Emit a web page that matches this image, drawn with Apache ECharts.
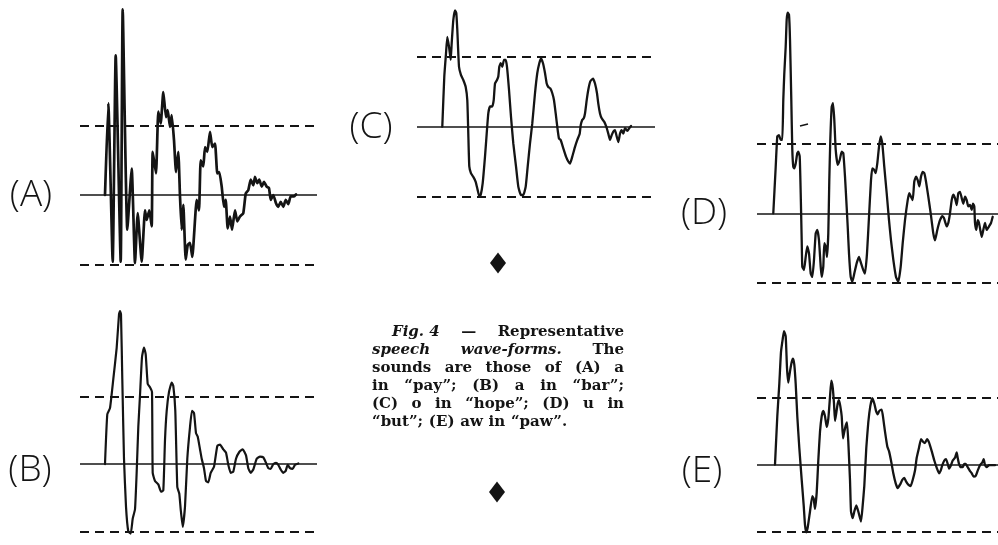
<!DOCTYPE html>
<html>
<head>
<meta charset="utf-8">
<script src="https://cdn.jsdelivr.net/npm/echarts@6/dist/echarts.min.js"></script>
<style>html,body{margin:0;padding:0;background:#fff;}#c{width:998px;height:545px;}</style>
</head>
<body>
<div id="c"></div>
<script>
// Panel labels
const panelLabels = ['(A)', '(B)', '(C)', '(D)', '(E)'];
// Waveforms: [time, amplitude] with the dashed reference lines at +1 / -1
const waveA = [[25,0],[28.3,1.32],[32.7,-0.96],[35.7,2.01],[40.7,-0.96],[42.7,2.67],[47.3,-0.5],[51.7,0.38],[55,-0.98],[57.7,-0.26],[61.7,-0.96],[65,-0.22],[66.7,-0.36],[69.3,-0.22],[71.7,-0.45],[72.7,0.62],[76,0.31],[78.3,1.2],[80.7,1.03],[83.3,1.48],[86,1.12],[87.7,1.22],[90,0.98],[91.7,1.15],[94,0.79],[96,0.33],[98.3,0.62],[100,-0.02],[101.7,-0.5],[103.3,-0.14],[105.7,-0.93],[107.7,-0.72],[110,-0.69],[112.3,-0.89],[116.7,-0.07],[119,-0.22],[120.7,0.5],[123.3,0.41],[125,0.69],[127.3,0.62],[130,0.91],[132.3,0.69],[135,0.74],[137.3,0.31],[139.3,0.33],[141.7,0.12],[144,-0.17],[145.7,-0.07],[147.7,-0.48],[150,-0.31],[152,-0.5],[155,-0.22],[157.3,-0.38],[160,-0.31],[163.3,-0.26],[165.7,0.02],[168.3,0.07],[170.7,0.22],[173.3,0.14],[175,0.26],[177.3,0.17],[179.3,0.22],[181.7,0.12],[184,0.19],[186.7,0.12],[189,0.1],[190.7,-0.07],[193.3,0],[196,-0.12],[198.3,-0.17],[200.7,-0.1],[203.3,-0.17],[205.7,-0.07],[208.3,-0.13],[210.7,-0.02],[214,-0.02],[216,0.01]];
const waveB = [[25,0],[27.3,0.74],[30,0.83],[33.3,1.26],[36.7,1.73],[39,2.22],[40,2.27],[41,2.22],[42.3,1.26],[44,0.08],[46,-0.63],[48.3,-1],[50.7,-1.03],[52.7,-0.81],[55,-0.67],[56.7,-0.11],[58.3,0.55],[60,1.02],[62,1.59],[64,1.73],[65.7,1.63],[67.7,1.19],[70,1.14],[72,1.07],[72.7,-0.13],[75,-0.25],[78.3,-0.3],[81,-0.41],[83.3,-0.39],[85,0.36],[86.7,0.79],[89,1.07],[91.7,1.21],[93.3,1.16],[95.3,0.79],[97.3,-0.34],[99.3,-0.44],[100.7,-0.67],[102.7,-0.93],[105,-0.63],[107.3,0.08],[110,0.55],[112,0.79],[114,0.76],[116,0.46],[117.7,0.41],[120,0.22],[121.7,0.08],[124,-0.06],[126,-0.25],[128.3,-0.27],[130.7,-0.13],[134,-0.04],[137.3,0.27],[140,0.29],[143.3,0.22],[146,0.17],[148.3,-0.01],[150.7,-0.13],[153.3,-0.11],[156,0.08],[159.3,0.18],[162.7,0.22],[166,0.13],[168.3,-0.06],[170.7,-0.13],[173.3,-0.08],[176.7,0.08],[180,0.11],[183.3,0.1],[185.7,0.03],[188.3,-0.06],[190.7,-0.07],[193.3,0],[196,0.02],[198.3,-0.01],[200.7,-0.08],[203.3,-0.13],[205.7,-0.1],[207.7,-0.01],[210,-0.06],[212.7,-0.07],[215,-0.01],[218.3,0.01]];
const waveC = [[25.3,0],[27.3,0.72],[29,1.05],[30.3,1.29],[32,1.15],[33.7,0.96],[34.7,1.2],[36.3,1.53],[38,1.67],[39.3,1.63],[40.3,1.39],[42,0.86],[44,0.74],[46.3,0.67],[48.7,0.57],[50.3,0.38],[51.3,-0.1],[52.3,-0.57],[54,-0.67],[56.3,-0.72],[58.7,-0.79],[60.7,-0.91],[62.3,-1],[63.7,-0.98],[65.7,-0.81],[68,-0.43],[69.7,-0.1],[71.3,0.19],[73,0.29],[75.3,0.29],[76.7,0.38],[78,0.62],[80,0.67],[81.3,0.72],[82.3,0.86],[83.7,0.91],[85.3,0.86],[87,0.96],[88.7,0.96],[90,0.86],[92,0.53],[94,0.14],[96.3,-0.24],[99,-0.57],[101.3,-0.86],[104,-0.98],[106.3,-0.98],[108.7,-0.86],[110.7,-0.57],[113,-0.24],[115.3,0.05],[118,0.48],[120.3,0.77],[122.3,0.91],[124,0.98],[126,0.91],[128,0.77],[129.7,0.62],[131.3,0.57],[133.3,0.55],[135.3,0.48],[137,0.38],[138.7,0.19],[140.7,-0.05],[142,-0.17],[143.7,-0.19],[146.3,-0.31],[149,-0.43],[151.3,-0.5],[153,-0.53],[155.3,-0.43],[158,-0.29],[160.3,-0.19],[162.7,-0.1],[163.7,0.02],[165.3,0.1],[166.7,0.12],[168,0.19],[169.7,0.38],[171.3,0.53],[173.3,0.65],[176,0.69],[178,0.62],[180,0.48],[181.3,0.33],[183,0.19],[184.7,0.12],[187.3,0.07],[189.3,0],[191.3,-0.1],[193,-0.19],[194.7,-0.12],[196.3,-0.07],[198,-0.05],[199.7,-0.14],[201.3,-0.22],[203,-0.1],[204.7,-0.05],[206.3,-0.1],[208,-0.02],[210.3,-0.06],[212.3,-0.02],[214,0.01]];
const waveD = [[16.3,0],[18.7,0.67],[20.3,1.11],[22,1.13],[23.7,1.06],[25.3,1.06],[26.3,1.64],[27.3,2.02],[28.7,2.41],[29.7,2.8],[30.7,2.9],[32,2.87],[33,2.51],[34.3,1.64],[35.3,0.92],[36.3,0.67],[37.3,0.65],[38.7,0.72],[40.3,0.87],[41.3,0.89],[42.7,0.82],[43.7,0.29],[44.7,-0.39],[45.3,-0.77],[47,-0.82],[48.7,-0.63],[50.3,-0.48],[52,-0.58],[53.7,-0.87],[55.3,-0.92],[57,-0.67],[58.7,-0.29],[60.3,-0.24],[62,-0.39],[63.7,-0.77],[64.7,-0.92],[66.3,-0.77],[67.3,-0.43],[68.7,-0.48],[70,-0.63],[71.3,-0.29],[72.3,0.48],[73.3,1.06],[74.7,1.54],[76,1.59],[77.3,1.35],[78.7,0.92],[80.7,0.7],[82.7,0.77],[84.7,0.89],[86.3,0.87],[88,0.53],[89.3,0.19],[90.7,-0.19],[92,-0.58],[93.7,-0.92],[95.3,-0.99],[97.3,-0.87],[99.7,-0.72],[102,-0.63],[104,-0.72],[106.3,-0.82],[108,-0.87],[110,-0.58],[112,-0.05],[114,0.48],[115.3,0.65],[117,0.63],[118.7,0.58],[120.3,0.72],[122,0.96],[123.7,1.11],[125.3,1.01],[127.3,0.67],[129.7,0.29],[132,-0.1],[134,-0.39],[136.3,-0.67],[139,-0.92],[141.3,-0.99],[143.7,-0.77],[145.7,-0.43],[148,-0.1],[150.7,0.19],[152.3,0.29],[154,0.24],[155.7,0.19],[157.3,0.46],[159,0.53],[160.7,0.48],[162.3,0.39],[164,0.53],[165.7,0.6],[167.3,0.58],[169,0.46],[171.3,0.24],[173.7,0],[176.3,-0.29],[178,-0.39],[180.3,-0.24],[183,-0.1],[185.3,-0.04],[187,-0.07],[189.7,-0.19],[191.3,-0.14],[193,0],[194.7,0.19],[196.3,0.27],[198,0.22],[199.7,0.12],[201.3,0.29],[203,0.31],[204.7,0.22],[206.3,0.14],[208,0.24],[209.7,0.19],[211.3,0.1],[213,0.12],[214.7,0.05],[216,0.14],[217.3,0.1],[218,-0.14],[219.3,-0.24],[220.7,-0.1],[222,-0.14],[223.3,-0.24],[224.7,-0.34],[226.3,-0.24],[228,-0.14],[229.7,-0.24],[232,-0.19],[234,-0.14],[235.7,-0.05]];
const waveE = [[18,0],[20.3,0.72],[22.3,1.2],[24,1.68],[25.7,1.87],[27,1.99],[28.7,1.91],[30,1.44],[31.3,1.22],[33,1.39],[34.7,1.53],[36,1.58],[37.3,1.49],[38.7,1.2],[40.3,0.72],[42.3,0.25],[44.7,-0.23],[46.7,-0.61],[48,-0.9],[49.3,-1.01],[50.7,-0.94],[53,-0.7],[55.3,-0.47],[56.7,-0.51],[58,-0.66],[59.7,-0.42],[61.3,0.06],[63,0.49],[64.7,0.72],[66.3,0.8],[68,0.72],[69.7,0.56],[71.3,0.68],[73,1.01],[74.3,1.25],[75.7,1.15],[77,0.91],[78,0.65],[79.3,0.77],[80.7,0.91],[82,0.96],[83.3,0.87],[84.7,0.72],[86,0.39],[87.3,0.49],[88.7,0.58],[90,0.63],[91.3,0.34],[93,-0.23],[94,-0.7],[95.7,-0.8],[97.3,-0.7],[99.3,-0.61],[101.3,-0.7],[104,-0.85],[105.7,-0.61],[107.3,-0.32],[109.3,0.25],[111.3,0.63],[113.3,0.87],[115.3,0.99],[117.3,0.91],[119,0.8],[120.7,0.75],[122.3,0.8],[124.7,0.82],[126.3,0.68],[128,0.49],[130.3,0.27],[132,0.2],[134,0.06],[136.3,-0.13],[138.7,-0.28],[140.7,-0.35],[143,-0.3],[145.3,-0.23],[147.3,-0.2],[149,-0.25],[151.3,-0.3],[153.7,-0.32],[155.7,-0.23],[158,-0.09],[159.7,0.1],[162,0.25],[164,0.38],[166,0.34],[168,0.32],[170,0.38],[172,0.33],[174.7,0.2],[177.3,0.06],[180,-0.06],[182,-0.13],[183.7,-0.09],[185.3,-0.01],[187.3,0.06],[189,0.08],[190.7,0.01],[192,-0.06],[194,-0.01],[195.7,0.06],[198,0.1],[199.7,0.18],[200.7,0.1],[202,0.01],[203.7,-0.04],[205.7,-0.04],[207.3,0.01],[208.7,0.01],[210.7,-0.04],[212.7,-0.09],[214.7,-0.13],[216.7,-0.18],[218.7,-0.17],[220.7,-0.09],[223,-0.01],[225.3,0.03],[226.7,0.08],[228,-0.01],[229.7,-0.04],[232,-0.01],[234.7,-0.01],[238,-0.01]];
const referenceLevels = [1, -1];
const baselineLevel = 0;
const captionLines = [
  [['Fig. 4', true], ['—', false], ['Representative', false]],
  [['speech', true], ['wave-forms.', true], ['The', false]],
  [['sounds', false], ['are', false], ['those', false], ['of', false], ['(A)', false], ['a', false]],
  [['in', false], ['\u201cpay\u201d;', false], ['(B)', false], ['a', false], ['in', false], ['\u201cbar\u201d;', false]],
  [['(C)', false], ['o', false], ['in', false], ['\u201chope\u201d;', false], ['(D)', false], ['u', false], ['in', false]],
  [['\u201cbut\u201d;', false], ['(E)', false], ['aw', false], ['in', false], ['\u201cpaw\u201d.', false]]
];

// ---- layout (pixels) ----
const waves = [waveA, waveB, waveC, waveD, waveE];
const layout = [
  {left: 80,  right: 317, base: 195.0, scale: 69.5, ymax: 2.75, lx: 31,  ly: 195, lw: 2.7},
  {left: 80,  right: 317, base: 472.3, scale: 70.8, ymax: 2.4,  lx: 30,  ly: 470, lw: 2.2},
  {left: 417, right: 655, base: 126.7, scale: 69.7, ymax: 1.8,  lx: 371, ly: 127, lw: 2.3},
  {left: 757, right: 998, base: 213.3, scale: 69.2, ymax: 3.0,  lx: 704, ly: 213, lw: 2.3},
  {left: 757, right: 998, base: 470.7, scale: 70.0, ymax: 2.1,  lx: 702, ly: 471, lw: 2.3}
];
const ymin = -1.2;
const INK = '#141414';

const grid = [], xAxis = [], yAxis = [], series = [], graphic = [];
layout.forEach((p, i) => {
  grid.push({left: p.left, top: p.base - p.ymax * p.scale, width: p.right - p.left,
             height: (p.ymax - ymin) * p.scale, containLabel: false});
  xAxis.push({type: 'value', gridIndex: i, min: 0, max: p.right - p.left, show: false});
  yAxis.push({type: 'value', gridIndex: i, min: ymin, max: p.ymax, show: false});
  series.push({
    type: 'line', xAxisIndex: i, yAxisIndex: i, data: waves[i],
    showSymbol: false, symbol: 'none', smooth: 0.15, clip: false,
    lineStyle: {color: INK, width: p.lw, join: 'round', cap: 'round'},
    silent: true, animation: false,
    markLine: {
      silent: true, symbol: 'none', animation: false, label: {show: false},
      data: referenceLevels.map(v => ({yAxis: v, lineStyle: {type: [9, 6], width: 2, color: INK}}))
        .concat([{yAxis: baselineLevel, lineStyle: {type: 'solid', width: 1.6, color: INK}}])
    }
  });
  graphic.push({type: 'text', style: {
    text: panelLabels[i], x: p.lx, y: p.ly, fontSize: 37, fontWeight: 300,
    fontFamily: 'Open Sans', fill: INK, align: 'center', verticalAlign: 'middle'}});
});

// diamonds
[[498, 263], [497, 492]].forEach(([cx, cy]) => {
  graphic.push({type: 'polygon', shape: {points: [[cx, cy - 10.5], [cx + 8, cy], [cx, cy + 10.5], [cx - 8, cy]]},
                style: {fill: INK}});
});
// stray pen mark in (D)
graphic.push({type: 'line', shape: {x1: 800, y1: 126, x2: 808, y2: 124}, style: {stroke: INK, lineWidth: 1.5}});

// caption, justified
const FS = 15, FF = '"DejaVu Serif"';
const cv = document.createElement('canvas').getContext('2d');
function w(t, it) { cv.font = (it ? 'italic ' : '') + 'bold ' + FS + 'px ' + FF; return cv.measureText(t).width; }
const capLeft = 372, capRight = 624, capTop = 332, capStep = 18.1;
captionLines.forEach((words, li) => {
  const y = capTop + li * capStep;
  const start = li === 0 ? capLeft + 20 : capLeft;
  const widths = words.map(([t, it]) => w(t, it));
  const total = widths.reduce((a, b) => a + b, 0);
  const last = li === captionLines.length - 1;
  const gap = last ? w(' ', false) * 1.1 : (capRight - start - total) / (words.length - 1);
  let x = start;
  words.forEach(([t, it], k) => {
    graphic.push({type: 'text', style: {text: t, x: x, y: y, fontSize: FS, fontWeight: 'bold',
      fontStyle: it ? 'italic' : 'normal', fontFamily: 'DejaVu Serif', fill: INK, verticalAlign: 'middle', align: 'left'}});
    x += widths[k] + gap;
  });
});

const chart = echarts.init(document.getElementById('c'), null, {renderer: 'canvas'});
chart.setOption({backgroundColor: '#fff', animation: false, grid, xAxis, yAxis, series, graphic});
</script>
</body>
</html>
